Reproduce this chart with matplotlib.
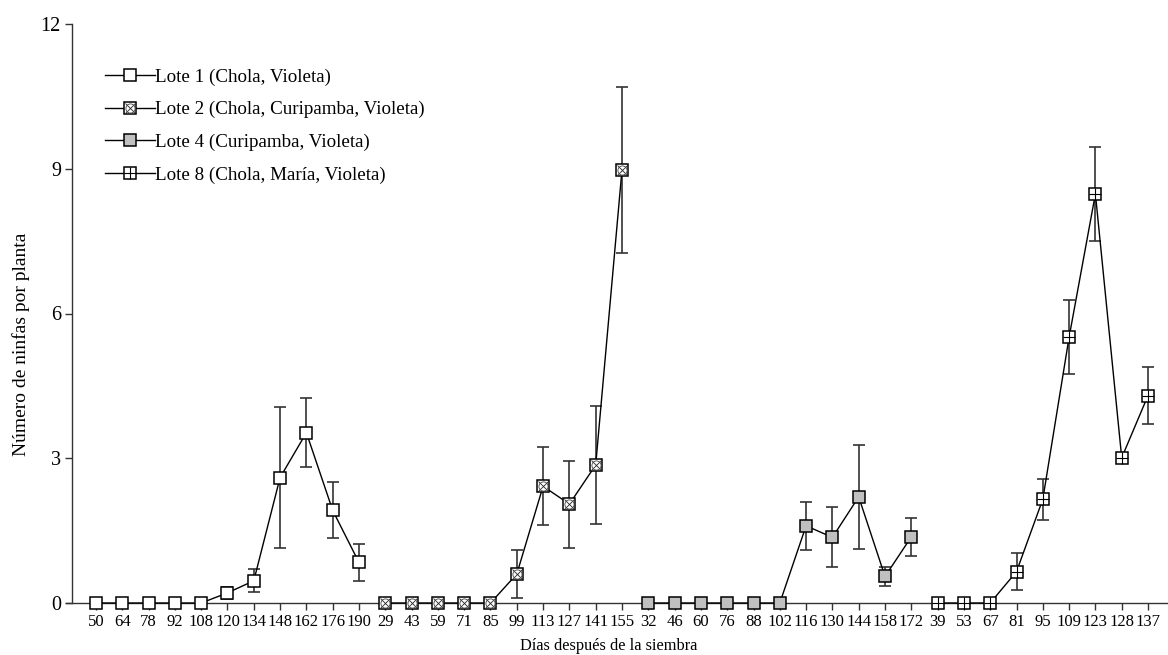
import matplotlib
matplotlib.use("Agg")
import matplotlib.pyplot as plt
import numpy as np

plt.rcParams['font.family'] = ['Liberation Serif', 'DejaVu Serif']

# Sampling days (days after sowing) for each plot
dias_lote1 = [50, 64, 78, 92, 108, 120, 134, 148, 162, 176, 190]
dias_lote2 = [29, 43, 59, 71, 85, 99, 113, 127, 141, 155]
dias_lote4 = [32, 46, 60, 76, 88, 102, 116, 130, 144, 158, 172]
dias_lote8 = [39, 53, 67, 81, 95, 109, 123, 128, 137]

# Mean nymphs per plant
ninfas_lote1 = [0, 0, 0, 0, 0, 0.21, 0.46, 2.6, 3.53, 1.92, 0.84]
ninfas_lote2 = [0, 0, 0, 0, 0, 0.6, 2.42, 2.05, 2.86, 8.98]
ninfas_lote4 = [0, 0, 0, 0, 0, 0, 1.6, 1.36, 2.2, 0.55, 1.37]
ninfas_lote8 = [0, 0, 0, 0.65, 2.15, 5.51, 8.48, 3.01, 4.3]

# Standard errors
ee_lote1 = [0, 0, 0, 0, 0, 0.12, 0.24, 1.46, 0.71, 0.58, 0.39]
ee_lote2 = [0, 0, 0, 0, 0, 0.5, 0.81, 0.9, 1.23, 1.72]
ee_lote4 = [0, 0, 0, 0, 0, 0, 0.5, 0.62, 1.08, 0.2, 0.4]
ee_lote8 = [0, 0, 0, 0.38, 0.43, 0.76, 0.98, 0.0, 0.59]

nombres = ["Lote 1 (Chola, Violeta)",
           "Lote 2 (Chola, Curipamba, Violeta)",
           "Lote 4 (Curipamba, Violeta)",
           "Lote 8 (Chola, María, Violeta)"]

series = [(dias_lote1, ninfas_lote1, ee_lote1),
          (dias_lote2, ninfas_lote2, ee_lote2),
          (dias_lote4, ninfas_lote4, ee_lote4),
          (dias_lote8, ninfas_lote8, ee_lote8)]

fig = plt.figure(figsize=(11.68, 6.55), dpi=100)
ax = fig.add_axes([66 / 1168, 1 - 603 / 655, 1 - 66 / 1168, (603 - 24) / 655])

ms = 8.8
fills = ['white', 'white', '#c0c0c0', 'white']
handles = []
etiquetas = []
inicio = 0
for i, (dias, vals, ee) in enumerate(series):
    x = np.arange(inicio, inicio + len(dias))
    inicio += len(dias)
    etiquetas += [str(d) for d in dias]
    e = np.array(ee, dtype=float)
    ax.errorbar(x, vals, yerr=np.where(e > 0, e, np.nan), fmt='none', ecolor='#333333',
                elinewidth=1.2, capsize=4.5, capthick=1.2, zorder=2, clip_on=False)
    ln, = ax.plot(x, vals, '-', color='black', lw=1.0, marker='s', ms=ms,
                  mfc=fills[i], mec='black', mew=1.1, zorder=3, clip_on=False)
    h = [ln]
    if i == 1:
        o1, = ax.plot(x, vals, ls='none', marker='x', ms=ms * 0.85, mec='#222222',
                      mew=0.6, zorder=4, clip_on=False)
        o2, = ax.plot(x, vals, ls='none', marker='o', ms=ms * 0.75, mfc='none',
                      mec='#444444', mew=0.6, zorder=4, clip_on=False)
        h = [ln, o1, o2]
    elif i == 3:
        o1, = ax.plot(x, vals, ls='none', marker='+', ms=ms * 1.05, mec='black',
                      mew=0.8, zorder=4, clip_on=False)
        h = [ln, o1]
    handles.append(tuple(h))

ax.set_xlim(-1.14, 40.76)
ax.set_ylim(0, 12)
ax.spines['left'].set_position(('data', -0.91))
ax.set_xticks(np.arange(len(etiquetas)))
ax.set_xticklabels(etiquetas)
ax.set_yticks([0, 3, 6, 9, 12])
for s in ['top', 'right']:
    ax.spines[s].set_visible(False)
for s in ['left', 'bottom']:
    ax.spines[s].set_linewidth(1.0)
    ax.spines[s].set_color('#333333')
ax.tick_params(axis='both', direction='out', length=5, width=1.0, color='#333333',
               labelsize=12, pad=3)
ax.tick_params(axis='y', labelsize=14.5)

ax.set_xlabel("Días después de la siembra", fontsize=11.8)
ax.set_ylabel("Número de ninfas por planta", fontsize=14)
ax.xaxis.set_label_coords(0.4927, -0.061)
ax.yaxis.set_label_coords(-0.033, 0.447)

leg = ax.legend(handles, nombres, loc='upper left', bbox_to_anchor=(0.02, 0.953),
                frameon=False, fontsize=13.7, handlelength=2.6, handletextpad=0.0,
                labelspacing=0.8)

fig.savefig("out.png", dpi=100)
